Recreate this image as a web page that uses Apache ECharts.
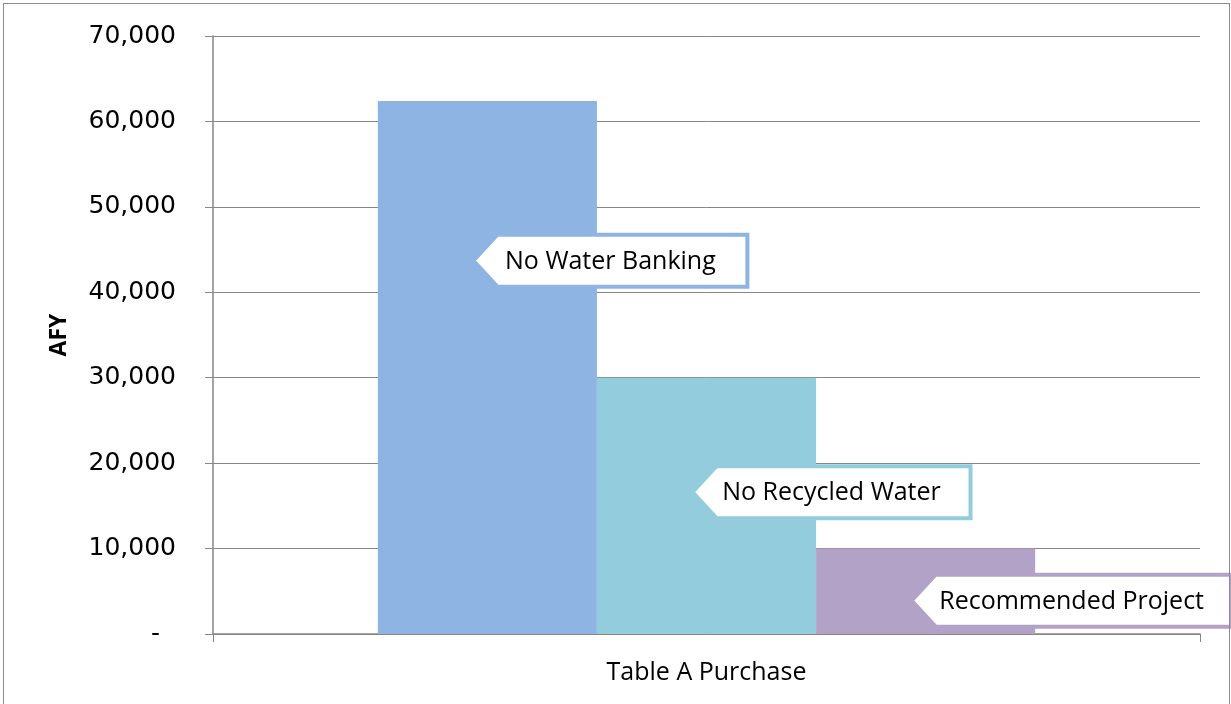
<!DOCTYPE html>
<html>
<head>
<meta charset="utf-8">
<script src="https://cdn.jsdelivr.net/npm/echarts@6/dist/echarts.min.js"></script>
<style>
  html, body { margin: 0; padding: 0; background: #fff; }
  #chart { width: 1231px; height: 704px; }
  .frame {
    position: absolute; left: 3px; top: 3px; width: 1225px; height: 720px;
    border: 1.5px solid #8c8c8c; pointer-events: none;
  }
</style>
</head>
<body>
<div id="chart"></div>
<div class="frame"></div>
<script>
const categories = ["Table A Purchase"];
const seriesNames = ["No Water Banking", "No Recycled Water", "Recommended Project"];
const afyValues = [62400, 30000, 10000];
const yTicks = [0, 10000, 20000, 30000, 40000, 50000, 60000, 70000];
const barColors = ["#8EB4E3", "#93CDDD", "#B3A2C7"];

// where the callout labels sit (data units) and their box widths
const calloutAt = [43700, 16600, 3900];
const calloutW = [274, 278, 320];
const calloutH = 52;

const grey = "#868686";

// arrow-shaped box pointing left; symbol kept square so the border isn't stretched
function calloutPath(w, h) {
  return "path://M0," + h / 2 + "L24,0L" + w + ",0L" + w + "," + h + "L24," + h + "Z";
}

const series = seriesNames.map((name, i) => ({
  name: name,
  type: "bar",
  data: [afyValues[i]],
  barGap: "0%",
  barCategoryGap: "33.4%",
  itemStyle: { color: barColors[i] },
  emphasis: { disabled: true },
  markPoint: {
    silent: true,
    symbol: calloutPath(calloutW[i], calloutH),
    symbolKeepAspect: true,
    symbolSize: calloutW[i],
    symbolOffset: [calloutW[i] / 2 - 14, 0],
    itemStyle: { color: "#fff", borderColor: barColors[i], borderWidth: 4 },
    label: {
      show: true,
      position: "inside",
      formatter: name,
      color: "#000",
      fontFamily: "Open Sans",
      fontSize: 25,
      offset: [0, 1],
    },
    emphasis: { disabled: true },
    data: [{ coord: [categories[0], calloutAt[i]] }],
  },
}));

const chart = echarts.init(document.getElementById("chart"));
chart.setOption({
  animation: false,
  grid: { left: 213, right: 31, top: 36, bottom: 70, containLabel: false },
  xAxis: {
    type: "category",
    data: categories,
    axisLine: { lineStyle: { color: grey, width: 1.5 } },
    axisTick: { show: true, length: 8, lineStyle: { color: grey } },
    axisLabel: {
      color: "#000",
      fontFamily: "Open Sans",
      fontSize: 25,
      margin: 26,
    },
  },
  yAxis: {
    type: "value",
    min: yTicks[0],
    max: yTicks[yTicks.length - 1],
    interval: yTicks[1] - yTicks[0],
    name: "AFY",
    nameLocation: "middle",
    nameGap: 142,
    nameRotate: 90,
    nameTextStyle: {
      color: "#000",
      fontFamily: "Open Sans",
      fontWeight: "bold",
      fontSize: 23,
    },
    axisLine: { show: true, lineStyle: { color: grey, width: 1.5 } },
    axisTick: { show: true, length: 8, lineStyle: { color: grey } },
    splitLine: { lineStyle: { color: grey, width: 1 } },
    axisLabel: {
      color: "#000",
      fontFamily: "DejaVu Sans",
      fontSize: 25,
      margin: 37,
      padding: [5, 0, 0, 0],
      formatter: (v) => (v === 0 ? "-  " : v.toLocaleString("en-US")),
    },
  },
  series: series,
});
</script>
</body>
</html>
